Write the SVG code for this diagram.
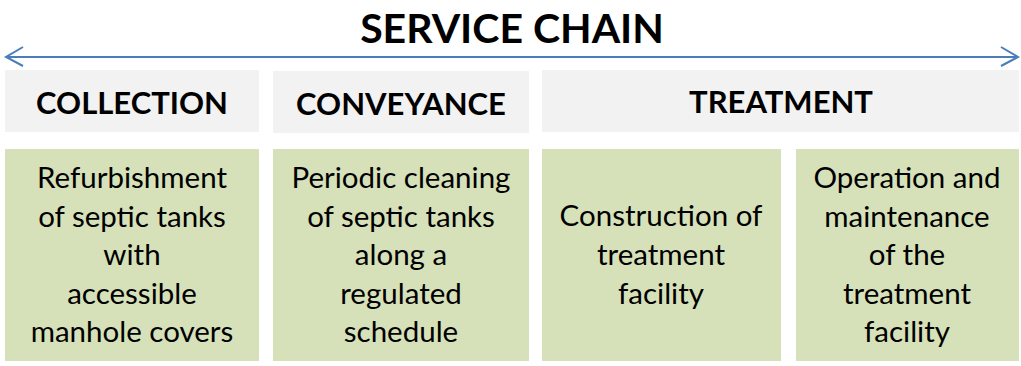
<svg xmlns="http://www.w3.org/2000/svg" width="1021" height="366" viewBox="0 0 1021 366">
<style>
.hdr{fill:#F2F2F2}
.grn{fill:#D6E1B9}
.t{font-family:Lato,"Open Sans","Liberation Sans",sans-serif;fill:#000;text-anchor:middle}
.h{font-size:31px;font-weight:bold}
.b{font-size:29.5px}
.title{font-size:41px;font-weight:bold}
.arr{stroke:#4A7EBB;stroke-width:2;fill:none}
</style>
<rect width="1021" height="366" fill="#fff"/>
<text class="t title" x="512" y="43">SERVICE CHAIN</text>
<g id="connectors">
<line class="arr" x1="6" y1="57" x2="1018" y2="57"/>
<polyline class="arr" points="23,47 6,57 23,66"/>
<polyline class="arr" points="1001,47 1018,57 1001,66"/>
</g>
<g id="collection-header"><rect class="hdr" x="5" y="70" width="254" height="62"/><text class="t h" x="132" y="114">COLLECTION</text></g>
<g id="conveyance-header"><rect class="hdr" x="273" y="71" width="256" height="62"/><text class="t h" x="401" y="115">CONVEYANCE</text></g>
<g id="treatment-header"><rect class="hdr" x="542" y="70" width="477" height="62"/><text class="t h" x="781" y="113">TREATMENT</text></g>
<g id="collection-body"><rect class="grn" x="5" y="149" width="254" height="212"/>
<text class="t b" x="132" y="188">Refurbishment</text>
<text class="t b" x="132" y="227">of septic tanks</text>
<text class="t b" x="132" y="265">with</text>
<text class="t b" x="132" y="304">accessible</text>
<text class="t b" x="132" y="342">manhole covers</text></g>
<g id="conveyance-body"><rect class="grn" x="273" y="149" width="256" height="212"/>
<text class="t b" x="401" y="188">Periodic cleaning</text>
<text class="t b" x="401" y="227">of septic tanks</text>
<text class="t b" x="401" y="265">along a</text>
<text class="t b" x="401" y="304">regulated</text>
<text class="t b" x="401" y="342">schedule</text></g>
<g id="construction-body"><rect class="grn" x="542" y="149" width="239" height="212"/>
<text class="t b" x="661" y="226">Construction of</text>
<text class="t b" x="661" y="265">treatment</text>
<text class="t b" x="661" y="304">facility</text></g>
<g id="operation-body"><rect class="grn" x="796" y="149" width="223" height="212"/>
<text class="t b" x="907" y="188">Operation and</text>
<text class="t b" x="907" y="227">maintenance</text>
<text class="t b" x="907" y="265">of the</text>
<text class="t b" x="907" y="304">treatment</text>
<text class="t b" x="907" y="342">facility</text></g>
</svg>
